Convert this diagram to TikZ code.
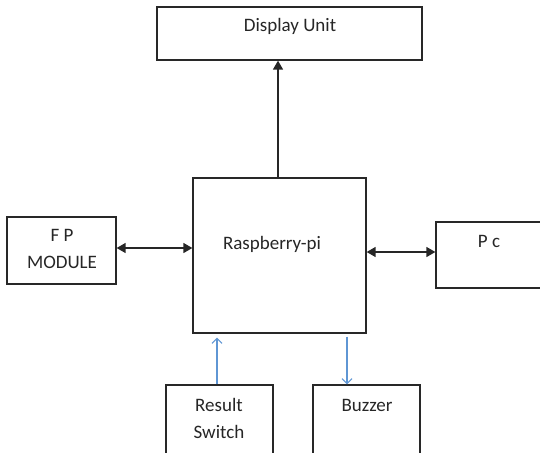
\documentclass[tikz,border=0pt]{standalone}
\usepackage{fontspec}
\setmainfont{Carlito}
\usetikzlibrary{arrows.meta}
\definecolor{boxline}{RGB}{40,40,40}
\definecolor{sigblue}{RGB}{95,150,212}

\begin{document}
\begin{tikzpicture}[x=1pt,y=-1pt,
    blk/.style={draw=boxline, line width=1.3pt, inner sep=0pt},
    txt/.style={font=\fontsize{19}{27.5}\selectfont, text=black!85, align=center, inner sep=0pt},
    bus/.style={line width=1.5pt, draw=black!85},
    sig/.style={line width=1.1pt, draw=sigblue}]
    \useasboundingbox (0,0) rectangle (540,452);
    \clip (0,0) rectangle (540,452);

    \node[blk, minimum width=265pt, minimum height=53pt] (disp) at (289.5,33.5) {};
    \node[blk, minimum width=173pt, minimum height=155pt] (rpi) at (279.5,255.5) {};
    \node[blk, minimum width=109pt, minimum height=67pt] (fp) at (61.5,250.5) {};
    \node[blk, minimum width=112pt, minimum height=66pt] (pc) at (492,255) {};
    \node[blk, minimum width=107pt, minimum height=76pt] (rsw) at (219.5,423) {};
    \node[blk, minimum width=107pt, minimum height=76pt] (buzz) at (366.5,423) {};

    \node[txt] (disptxt) at (290,26) {Display Unit};
    \node[txt] (rpitxt) at (272,244) {Raspberry-pi};
    \node[txt] (fptxt) at (62,249) {F P\\MODULE};
    \node[txt] (pctxt) at (489,241) {P c};
    \node[txt] (rswtxt) at (219,418.5) {Result\\Switch};
    \node[txt] (buzztxt) at (367,405) {Buzzer};

    \draw[bus, -{Triangle[length=9pt,width=10pt]}] ([xshift=-1.5pt]rpi.north) -- ([xshift=-1.5pt]rpi.north |- disp.south);
    \draw[bus, {Triangle[length=9pt,width=10pt]}-{Triangle[length=9pt,width=10pt]}] ([yshift=2.5pt]fp.east) -- ([yshift=2.5pt]fp.east -| rpi.west);
    \draw[bus, {Triangle[length=9pt,width=10pt]}-{Triangle[length=9pt,width=10pt]}] ([yshift=3pt]pc.west -| rpi.east) -- ([yshift=3pt]pc.west);

    \draw[sig, -{Straight Barb[length=5pt,width=10pt]}, shorten >=4pt] ([xshift=-2.5pt]rsw.north) -- ([xshift=-2.5pt]rsw.north |- rpi.south);
    \draw[sig, -{Straight Barb[length=5pt,width=10pt]}, shorten <=3pt] ([xshift=-19.5pt]buzz.north |- rpi.south) -- ([xshift=-19.5pt]buzz.north);
\end{tikzpicture}
\end{document}
